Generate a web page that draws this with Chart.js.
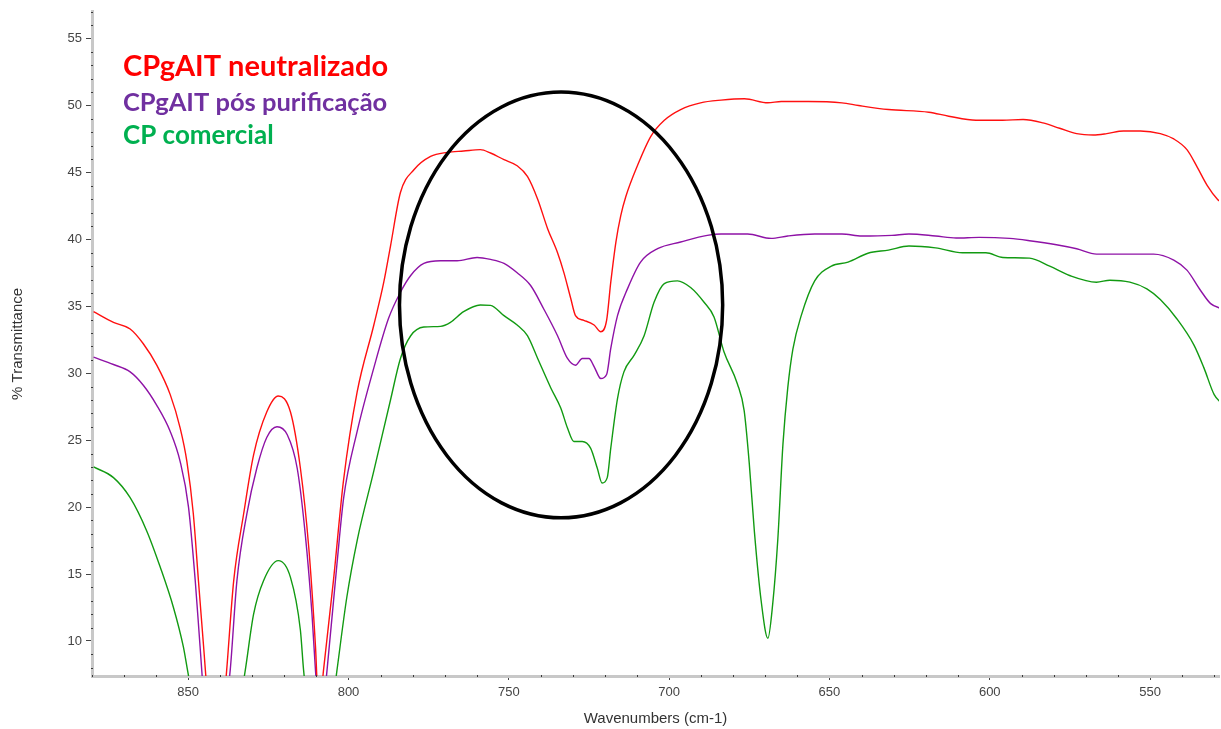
<!DOCTYPE html>
<html>
<head>
<meta charset="utf-8">
<script src="https://cdn.jsdelivr.net/npm/chart.js@4.4.1/dist/chart.umd.min.js"></script>
<style>
  html, body { margin: 0; padding: 0; background: #fff; }
  #wrap { width: 1221px; height: 729px; position: relative; }
</style>
</head>
<body>
<div id="wrap"><canvas id="ftir"></canvas></div>
<script>
// series names (shown as coloured labels top-left)
const seriesNames = ["CPgAIT neutralizado", "CPgAIT pós purificação", "CP comercial"];

// wavenumber (cm-1) / %T
const redWn = [879.5, 873.3, 868.1, 864.0, 859.8, 855.6, 852.5, 850.4, 848.4, 846.8, 845.2, 843.5, 841.5, 839.5, 838.0,
  835.8, 832.7, 829.6, 825.5, 821.9, 818.1, 815.0, 812.4, 810.3, 809.2, 807.8, 804.7, 801.6, 797.3, 792.1, 789.0,
  786.9, 783.8, 779.6, 774.4, 769.2, 764.1, 758.9, 755.7, 751.5, 747.4, 744.2, 741.0, 737.9, 734.8, 732.8, 730.7,
  729.2, 726.6, 723.4, 721.3, 719.5, 718.2, 716.6, 715.1, 713.5, 709.9, 705.7, 701.5, 696.4, 690.2, 683.8, 676.5,
  669.2, 665.0, 656.6, 646.1, 640.9, 631.6, 619.0, 612.8, 604.3, 596.0, 589.6, 583.4, 578.2, 572.9, 567.7, 563.5,
  558.3, 553.0, 546.8, 542.6, 538.5, 535.3, 532.1, 529.0, 527.5];
const redT = [34.6, 33.8, 33.3, 32.2, 30.6, 28.4, 25.9, 23.4, 19.5, 14.5, 9.6, 4.5, 1.5, 3.5, 7.8,
  14.5, 19.5, 23.9, 27.1, 28.3, 27.1, 22.9, 17.0, 9.6, 4.5, 7.8, 14.5, 21.9, 28.6, 33.6, 36.8,
  39.5, 43.5, 45.2, 46.2, 46.5, 46.6, 46.7, 46.45, 45.95, 45.5, 44.7, 43.0, 40.8, 39.0, 37.5, 35.6,
  34.3, 33.95, 33.6, 33.1, 33.95, 36.8, 39.8, 41.75, 43.2, 45.5, 47.7, 48.9, 49.7, 50.2, 50.4, 50.5,
  50.2, 50.3, 50.3, 50.2, 50.0, 49.7, 49.5, 49.2, 48.9, 48.9, 48.95, 48.7, 48.3, 47.9, 47.8, 47.9,
  48.1, 48.1, 47.9, 47.5, 46.7, 45.4, 44.0, 43.0, 42.7];

const purpleWn = [879.5, 873.3, 868.1, 864.0, 859.8, 855.6, 852.5, 849.9, 847.8, 846.3, 845.0, 841.5, 838.3, 836.9,
  834.8, 831.7, 828.6, 825.5, 822.3, 819.1, 816.0, 813.5, 811.4, 810.3, 808.7, 806.7, 803.6, 801.5, 797.3, 792.1,
  787.5, 783.8, 780.6, 776.5, 771.3, 766.1, 759.9, 755.7, 751.5, 747.4, 743.2, 739.1, 734.8, 731.7, 729.2, 727.1,
  725.0, 723.4, 721.3, 719.5, 718.2, 716.1, 713.0, 708.9, 703.6, 696.4, 688.1, 683.8, 675.5, 668.2, 663.0, 654.6,
  646.1, 639.9, 630.5, 625.2, 616.9, 610.5, 603.3, 593.8, 587.6, 579.2, 572.9, 566.7, 558.3, 548.9, 542.6, 538.5,
  534.3, 531.1, 527.5];
const purpleT = [31.2, 30.65, 30.1, 29.1, 27.6, 25.65, 23.4, 20.0, 14.5, 9.6, 5.5, 0.5, 5.0, 7.8,
  14.5, 19.5, 22.9, 25.2, 26.0, 25.4, 22.9, 18.0, 12.05, 7.8, 3.5, 7.8, 15.75, 20.7, 25.65, 30.4,
  34.1, 36.05, 37.3, 38.2, 38.4, 38.4, 38.65, 38.5, 38.2, 37.5, 36.55, 34.8, 32.8, 31.1, 30.6, 31.1,
  31.1, 30.5, 29.6, 29.9, 31.85, 34.3, 36.3, 38.3, 39.3, 39.8, 40.3, 40.4, 40.4, 40.07, 40.25, 40.4,
  40.4, 40.25, 40.3, 40.4, 40.25, 40.1, 40.15, 40.07, 39.9, 39.6, 39.3, 38.9, 38.9, 38.9, 38.45, 37.7,
  36.2, 35.2, 34.8];

const greenWn = [879.5, 873.3, 868.1, 862.9, 858.7, 854.6, 851.5, 850.2, 846.5, 841.0, 835.5, 832.2, 829.6, 826.5,
  821.9, 818.1, 815.0, 814.0, 809.0, 803.6, 800.5, 797.3, 792.1, 786.9, 783.8, 780.6, 776.5, 771.3, 768.2, 764.1,
  758.9, 755.7, 751.5, 747.4, 744.2, 741.0, 736.9, 733.8, 731.7, 729.7, 727.1, 724.5, 722.4, 720.9, 719.3, 718.2,
  716.1, 714.1, 710.9, 707.8, 704.7, 701.5, 697.4, 693.3, 689.1, 686.0, 682.9, 678.7, 676.6, 675.0, 673.4, 671.3,
  669.2, 667.7, 666.1, 664.5, 663.0, 661.4, 658.8, 654.6, 649.4, 644.2, 638.0, 631.6, 625.2, 616.9, 608.5, 601.2,
  595.9, 587.6, 581.3, 575.1, 566.7, 562.5, 556.3, 551.0, 546.8, 541.6, 536.3, 533.2, 530.0, 527.5];
const greenT = [23.0, 22.2, 20.7, 18.2, 15.5, 12.5, 9.55, 7.8, 3.0, -2.0, 3.0, 7.8, 12.0, 14.5,
  16.0, 14.75, 10.8, 7.8, -2.0, 7.8, 13.3, 17.5, 22.7, 28.0, 31.1, 32.8, 33.45, 33.5, 33.8, 34.6,
  35.1, 35.07, 34.3, 33.6, 32.8, 31.1, 28.9, 27.4, 25.9, 24.9, 24.9, 24.4, 22.9, 21.8, 22.2, 24.4,
  28.1, 30.1, 31.35, 32.8, 35.3, 36.7, 36.9, 36.4, 35.3, 34.2, 31.6, 29.2, 27.2, 23.25, 18.15, 13.0,
  10.2, 12.75, 17.6, 24.7, 28.9, 31.8, 34.3, 36.9, 38.0, 38.3, 38.96, 39.2, 39.5, 39.36, 39.0, 39.0,
  38.65, 38.6, 38.0, 37.3, 36.8, 36.95, 36.8, 36.3, 35.5, 34.05, 32.1, 30.4, 28.4, 27.7];

// axis labels
const xTicks = [850, 800, 750, 700, 650, 600, 550];
const yTicks = [10, 15, 20, 25, 30, 35, 40, 45, 50, 55];

// highlighted region (wavenumber, %T, half-widths)
const markCenter = [733.7, 35.1];
const markRadius = [50.4, 15.9];

function toPoints(wn, t) {
  return wn.map((w, i) => ({ x: w, y: t[i] }));
}

const lineColors = ["#ff1010", "#8e12a6", "#129a12"];
const textColors = ["#ff0000", "#7030a0", "#00b050"];

// minor tick dots + highlight ellipse + coloured labels
const extrasPlugin = {
  id: "extras",
  afterDraw(chart) {
    const c = chart.ctx;
    const xs = chart.scales.x, ys = chart.scales.y;
    const area = chart.chartArea;
    c.save();
    c.fillStyle = "#3a3a3a";
    for (let v = 8; v <= 57; v++) {
      if (v % 5 === 0) continue;
      const py = Math.round(ys.getPixelForValue(v));
      c.fillRect(area.left - 1, py, 2, 1);
    }
    for (let v = 530; v <= 880; v += 10) {
      if (v % 50 === 0) continue;
      const px = Math.round(xs.getPixelForValue(v));
      c.fillRect(px, area.bottom - 1, 1, 2);
    }

    // ellipse around the 760-690 cm-1 region
    const cx = xs.getPixelForValue(markCenter[0]);
    const cy = ys.getPixelForValue(markCenter[1]);
    const rx = Math.abs(xs.getPixelForValue(markCenter[0] - markRadius[0]) - cx);
    const ry = Math.abs(ys.getPixelForValue(markCenter[1] + markRadius[1]) - cy);
    c.beginPath();
    c.ellipse(cx, cy, rx, ry, 0, 0, Math.PI * 2);
    c.lineWidth = 3.5;
    c.strokeStyle = "#000";
    c.stroke();

    // series labels
    const sizes = [29, 25.5, 26];
    const baselines = [76, 111, 144];
    c.textBaseline = "alphabetic";
    c.textAlign = "left";
    chart.data.datasets.forEach((ds, i) => {
      c.font = "bold " + sizes[i] + "px Lato, 'Open Sans', sans-serif";
      c.fillStyle = textColors[i];
      c.fillText(ds.label, 123, baselines[i]);
    });
    c.restore();
  }
};

const ctx = document.getElementById("ftir").getContext("2d");
const chart = new Chart(ctx, {
  type: "line",
  data: {
    datasets: [
      { label: seriesNames[0], data: toPoints(redWn, redT), borderColor: lineColors[0] },
      { label: seriesNames[1], data: toPoints(purpleWn, purpleT), borderColor: lineColors[1] },
      { label: seriesNames[2], data: toPoints(greenWn, greenT), borderColor: lineColors[2] },
    ],
  },
  options: {
    responsive: true,
    maintainAspectRatio: false,
    animation: false,
    parsing: false,
    layout: { padding: { top: 8, right: 2, left: 0, bottom: 0 } },
    elements: {
      line: { borderWidth: 1.4, cubicInterpolationMode: "monotone", fill: false },
      point: { radius: 0, hoverRadius: 0 },
    },
    plugins: { legend: { display: false }, tooltip: { enabled: false } },
    scales: {
      x: {
        type: "linear",
        reverse: true,
        min: 528.5,
        max: 880,
        afterFit: (s) => { s.height = 53; },
        afterBuildTicks: (s) => { s.ticks = xTicks.map((v) => ({ value: v })); },
        grid: { drawOnChartArea: false, drawTicks: true, tickLength: 4, tickColor: "#444", tickWidth: 1 },
        border: { display: true, color: "#c8c8c8", width: 3 },
        ticks: { color: "#444", font: { family: "'Liberation Sans', Arial, sans-serif", size: 13 }, padding: 5, maxRotation: 0 },
        title: {
          display: true,
          text: "Wavenumbers (cm-1)",
          color: "#333",
          font: { family: "'Liberation Sans', Arial, sans-serif", size: 15 },
          padding: { top: 0, bottom: 1 },
        },
      },
      y: {
        type: "linear",
        min: 7.38,
        max: 57,
        afterFit: (s) => { s.width = 92; },
        afterBuildTicks: (s) => { s.ticks = yTicks.map((v) => ({ value: v })); },
        grid: { drawOnChartArea: false, drawTicks: true, tickLength: 6, tickColor: "#444", tickWidth: 1 },
        border: { display: true, color: "#c8c8c8", width: 3 },
        ticks: { color: "#444", font: { family: "'Liberation Sans', Arial, sans-serif", size: 13 }, padding: 4 },
        title: {
          display: true,
          text: "% Transmittance",
          color: "#333",
          font: { family: "'Liberation Sans', Arial, sans-serif", size: 15 },
          padding: { top: 9, bottom: 0 },
        },
      },
    },
  },
  plugins: [extrasPlugin],
});
</script>
</body>
</html>
